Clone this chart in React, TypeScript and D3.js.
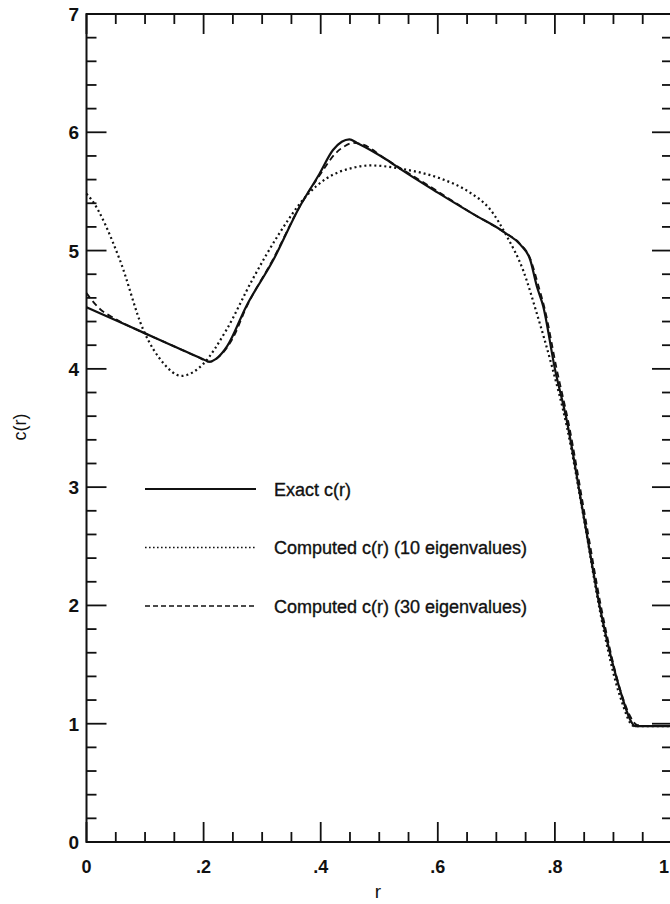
import React from 'react';
import * as d3 from 'd3';

// exact profile c(r)
const exactR = [0, 0.05, 0.1, 0.15, 0.2, 0.21, 0.225, 0.24, 0.273, 0.319, 0.364, 0.398, 0.421, 0.436, 0.449, 0.462, 0.512, 0.539, 0.6, 0.66, 0.715, 0.741, 0.758, 0.769, 0.78, 0.8, 0.82, 0.849, 0.877, 0.914, 0.928, 0.937, 1.0];
const exactC = [4.52, 4.41, 4.3, 4.19, 4.08, 4.06, 4.1, 4.19, 4.53, 4.92, 5.37, 5.65, 5.85, 5.92, 5.94, 5.91, 5.77, 5.68, 5.49, 5.31, 5.15, 5.05, 4.92, 4.7, 4.53, 4.0, 3.57, 2.76, 1.98, 1.24, 1.04, 0.98, 0.98];

// computed with 10 eigenvalues
const tenR = [0, 0.0085, 0.057, 0.097, 0.131, 0.162, 0.199, 0.239, 0.284, 0.33, 0.375, 0.41, 0.455, 0.485, 0.539, 0.604, 0.655, 0.689, 0.718, 0.746, 0.769, 0.795, 0.82, 0.85, 0.877, 0.912, 0.935, 1.0];
const tenC = [5.48, 5.43, 4.92, 4.33, 4.05, 3.94, 4.04, 4.33, 4.76, 5.15, 5.46, 5.61, 5.7, 5.72, 5.69, 5.61, 5.49, 5.35, 5.12, 4.83, 4.47, 4.02, 3.52, 2.72, 1.95, 1.22, 0.98, 0.98];

// computed with 30 eigenvalues
const thirtyR = [0, 0.02, 0.05, 0.1, 0.15, 0.19, 0.21, 0.23, 0.25, 0.273, 0.319, 0.364, 0.4, 0.425, 0.44, 0.455, 0.47, 0.512, 0.6, 0.66, 0.715, 0.74, 0.758, 0.772, 0.783, 0.803, 0.823, 0.852, 0.88, 0.916, 0.93, 0.94, 0.96, 1.0];
const thirtyC = [4.64, 4.52, 4.42, 4.3, 4.19, 4.1, 4.06, 4.12, 4.26, 4.52, 4.93, 5.37, 5.65, 5.82, 5.88, 5.91, 5.9, 5.77, 5.5, 5.31, 5.15, 5.06, 4.93, 4.7, 4.5, 4.0, 3.55, 2.74, 1.96, 1.22, 1.05, 0.99, 0.98, 0.98];

const xTickLabels = ['0', '.2', '.4', '.6', '.8', '1'];
const yTickLabels = ['0', '1', '2', '3', '4', '5', '6', '7'];
const legendLabels = ['Exact c(r)', 'Computed c(r) (10 eigenvalues)', 'Computed c(r) (30 eigenvalues)'];

const W = 670;
const H = 904;
const FONT = '"Liberation Sans", Arial, Helvetica, sans-serif';

export default function App() {
  const x = d3.scaleLinear().domain([0, 1]).range([86.5, 672]);
  const y = d3.scaleLinear().domain([0, 7]).range([842, 14]);

  const line = d3.line<[number, number]>()
    .x(d => x(d[0]))
    .y(d => y(d[1]))
    .curve(d3.curveMonotoneX);

  const zip = (a: number[], b: number[]) => a.map((v, i) => [v, b[i]] as [number, number]);

  const series = [
    { pts: zip(exactR, exactC), dash: null, width: 2.2 },
    { pts: zip(tenR, tenC), dash: '2 3', width: 2.2 },
    { pts: zip(thirtyR, thirtyC), dash: '6 4', width: 1.8 },
  ];

  const xMinor = d3.range(0, 1.0001, 0.05);
  const yMinor = d3.range(0, 7.0001, 0.2);
  const [x0, x1] = x.range();
  const [y0, y1] = y.range();

  return (
    <svg width={W} height={H} style={{ position: 'absolute', left: 0, top: 0, background: '#fff' }}>
      <rect x={0} y={0} width={W} height={H} fill="#fff" />
      {/* frame */}
      <rect x={x0} y={y1} width={x1 - x0} height={y0 - y1} fill="none" stroke="#111" strokeWidth={2} />

      {/* x ticks, top and bottom, pointing inward */}
      {xMinor.map((v, i) => {
        const len = i % 4 === 0 ? 20 : 10;
        const px = x(v);
        return (
          <g key={'xt' + i} stroke="#111" strokeWidth={1.8}>
            <line x1={px} x2={px} y1={y0} y2={y0 - len} />
            <line x1={px} x2={px} y1={y1} y2={y1 + len} />
          </g>
        );
      })}
      {/* y ticks, left and right */}
      {yMinor.map((v, i) => {
        const len = i % 5 === 0 ? 20 : 10;
        const py = y(v);
        return (
          <g key={'yt' + i} stroke="#111" strokeWidth={1.8}>
            <line x1={x0} x2={x0 + len} y1={py} y2={py} />
            <line x1={x1} x2={x1 - len} y1={py} y2={py} />
          </g>
        );
      })}

      {/* tick labels; the last one sits at the page edge */}
      {xTickLabels.map((t, i) => {
        const last = i === xTickLabels.length - 1;
        return (
          <text key={'xl' + i} x={last ? 669 : x(i * 0.2)} y={873} textAnchor={last ? 'end' : 'middle'}
            fontFamily={FONT} fontSize={18} fontWeight="bold" fill="#111">{t}</text>
        );
      })}
      {yTickLabels.map((t, i) => (
        <text key={'yl' + i} x={79} y={y(i) + 7} textAnchor="end" fontFamily={FONT} fontSize={19} fontWeight="bold" fill="#111">{t}</text>
      ))}

      {/* axis titles */}
      <text x={378} y={898} textAnchor="middle" fontFamily={FONT} fontSize={19} fill="#111">r</text>
      <text transform={`translate(26,427) rotate(-90)`} textAnchor="middle" fontFamily={FONT} fontSize={18} fill="#111">c(r)</text>

      {/* curves */}
      {series.map((s, i) => (
        <path key={'s' + i} d={line(s.pts) || ''} fill="none" stroke="#111" strokeWidth={s.width}
          strokeDasharray={s.dash || undefined} strokeLinejoin="round" />
      ))}

      {/* legend */}
      {legendLabels.map((t, i) => {
        const ly = 489 + i * 58.5;
        return (
          <g key={'lg' + i}>
            <line x1={145} x2={256} y1={ly} y2={ly} stroke="#111" strokeWidth={i === 0 ? 2 : 1.6}
              strokeDasharray={i === 1 ? '1.6 2.4' : i === 2 ? '5 3' : undefined} />
            <text x={274} y={ly + 6.5} fontFamily={FONT} fontSize={18} fill="#111" stroke="#111" strokeWidth={0.35}>{t}</text>
          </g>
        );
      })}
    </svg>
  );
}
